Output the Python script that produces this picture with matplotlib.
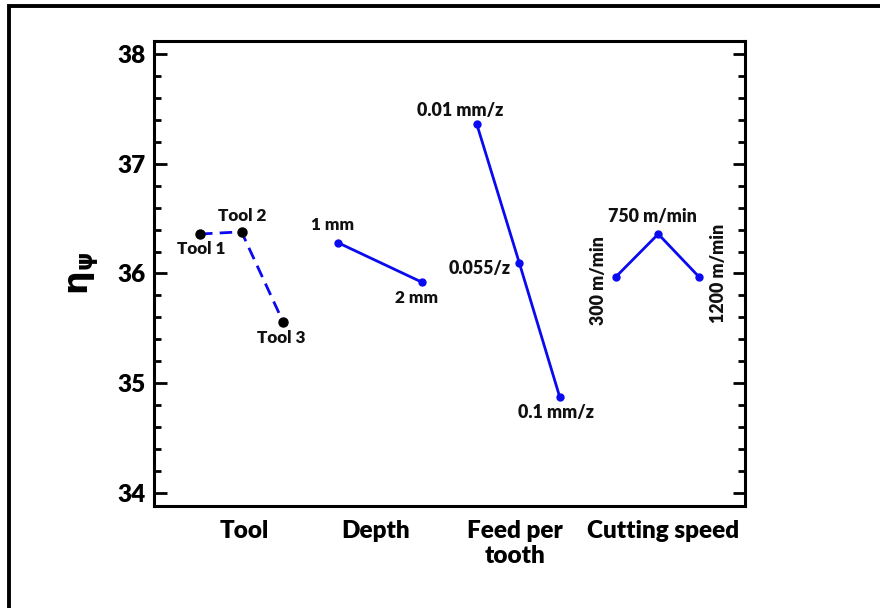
import matplotlib
matplotlib.use("Agg")
import matplotlib.pyplot as plt
from matplotlib.lines import Line2D
from matplotlib.ticker import MultipleLocator

# ---- data ----
categories = ["Tool", "Depth", "Feed per\ntooth", "Cutting speed"]
tool_vals = [36.36, 36.38, 35.56]
tool_labels = ["Tool 1", "Tool 2", "Tool 3"]
depth_vals = [36.28, 35.92]
depth_labels = ["1 mm", "2 mm"]
feed_vals = [37.36, 36.10, 34.87]
feed_labels = ["0.01 mm/z", "0.055/z", "0.1 mm/z"]
speed_vals = [35.97, 36.36, 35.97]
speed_labels = ["300 m/min", "750 m/min", "1200 m/min"]
yticks = [34, 35, 36, 37, 38]

# ---- layout ----
tool_x = [1, 2, 3]
depth_x = [4.33, 6.35]
feed_x = [7.67, 8.69, 9.67]
speed_x = [11.02, 12.04, 13.02]
cat_x = [2.06, 5.22, 8.59, 12.16]

FONT = "Lato"
plt.rcParams["font.family"] = [FONT, "DejaVu Sans"]
W = "heavy"

fig = plt.figure(figsize=(8.8, 6.08), dpi=100)
ax = fig.add_axes([154/880, 1-506/608, (745-154)/880, (506-41)/608])

blue = "#0a0af0"
ax.plot(tool_x, tool_vals, color=blue, lw=2.0, ls=(0, (4.5, 2.6)), zorder=2)
ax.plot(tool_x, tool_vals, ls="none", marker="o", ms=6.5, color="black", zorder=3)
for xs, ys in [(depth_x, depth_vals), (feed_x, feed_vals), (speed_x, speed_vals)]:
    ax.plot(xs, ys, color=blue, lw=2.0, marker="o", ms=5, zorder=3)

def lab(x, y, s, dx, dy, rot=0, size=12.3):
    ax.annotate(s, (x, y), xytext=(dx, dy), textcoords="offset pixels",
                ha="center", va="center", fontsize=size, fontweight=W,
                rotation=rot, color="#111111")

tool_off = [(1, -15), (1, 16), (-2, -16)]
for x, y, s, (dx, dy) in zip(tool_x, tool_vals, tool_labels, tool_off):
    lab(x, y, s, dx, dy)
depth_off = [(-6, 18), (-6, -16)]
for x, y, s, (dx, dy) in zip(depth_x, depth_vals, depth_labels, depth_off):
    lab(x, y, s, dx, dy)
feed_off = [(-17, 14), (-40, -6), (-4, -15)]
for x, y, s, (dx, dy) in zip(feed_x, feed_vals, feed_labels, feed_off):
    lab(x, y, s, dx, dy, size=12.8)
speed_off = [(-17, -4, 90), (-6, 18, 0), (20, 3, 90)]
for x, y, s, (dx, dy, r) in zip(speed_x, speed_vals, speed_labels, speed_off):
    lab(x, y, s, dx, dy, rot=r, size=12.8)

ax.set_xlim(-0.108, 14.13)
ax.set_ylim(33.88, 38.12)
ax.set_yticks(yticks)
ax.set_yticklabels([str(t) for t in yticks])
ax.yaxis.set_minor_locator(MultipleLocator(0.2))
ax.tick_params(axis="y", which="major", direction="in", length=9, width=2.0,
               left=True, right=True, labelsize=17.5, pad=6)
ax.tick_params(axis="y", which="minor", direction="in", length=5, width=2.0,
               left=True, right=True)
for t in ax.get_yticklabels():
    t.set_fontweight(W)

ax.set_xticks(cat_x)
ax.set_xticklabels(categories, fontsize=17.5, fontweight=W)
ax.tick_params(axis="x", length=0, pad=10)

for sp in ax.spines.values():
    sp.set_linewidth(2.2)

ax.set_ylabel(r"$\mathbf{\eta}_{\mathbf{\psi}}$", fontsize=24, labelpad=12)

# outer frame (top and left edges)
fig.add_artist(Line2D([8.5/880, 8.5/880, 1.0], [0.0, 1-5.5/608, 1-5.5/608],
                      transform=fig.transFigure, color="black", lw=2.8,
                      solid_joinstyle="miter"))

fig.savefig("out.png", dpi=100)
